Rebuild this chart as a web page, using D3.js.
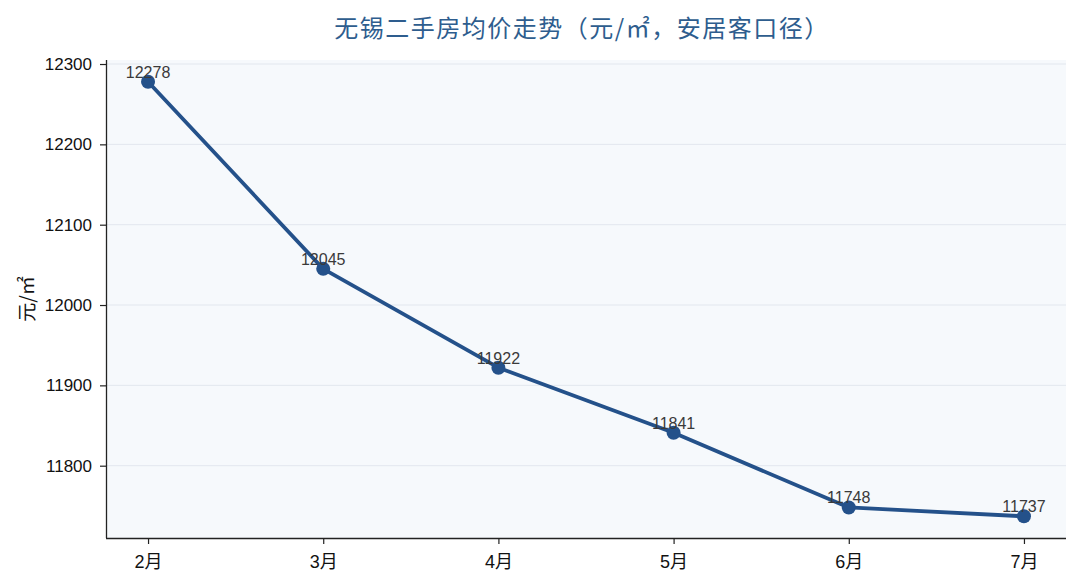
<!DOCTYPE html>
<html>
<head>
<meta charset="utf-8">
<script src="https://cdn.jsdelivr.net/npm/d3@7"></script>
<style>
  body { margin: 0; background: #fff; }
  svg { display: block; font-family: "Liberation Sans", "Noto Sans CJK SC", sans-serif; }
</style>
</head>
<body>
<script>
// data
var months = ['2月', '3月', '4月', '5月', '6月', '7月'];
var prices = [12278, 12045, 11922, 11841, 11748, 11737];
var yTicks = [11800, 11900, 12000, 12100, 12200, 12300];

var W = 1080, H = 588,
    m = {top: 60, right: 14, bottom: 50, left: 106},
    iw = W - m.left - m.right,
    ih = H - m.top - m.bottom;

var svg = d3.select('body').append('svg')
    .attr('width', W)
    .attr('height', H);

var x = d3.scalePoint().domain(months).range([0, iw]).padding(0.24);
var y = d3.scaleLinear().domain([11710, 12305]).range([ih, 0]);

var g = svg.append('g').attr('transform', 'translate(' + m.left + ',' + m.top + ')');

// plot background
g.append('rect')
    .attr('width', iw)
    .attr('height', ih)
    .attr('fill', '#f6f9fc');

// grid
g.selectAll('.grid')
    .data(yTicks)
    .enter()
    .append('line')
    .attr('x1', 0)
    .attr('x2', iw)
    .attr('y1', function(d){ return y(d); })
    .attr('y2', function(d){ return y(d); })
    .attr('stroke', '#e2e7ee')
    .attr('stroke-width', 1);

// axes
var yAxis = g.append('g')
    .call(d3.axisLeft(y).tickValues(yTicks).tickSize(6).tickPadding(8).tickFormat(d3.format('d')));
var xAxis = g.append('g')
    .attr('transform', 'translate(0,' + ih + ')')
    .call(d3.axisBottom(x).tickSize(6).tickPadding(11));

[yAxis, xAxis].forEach(function(a){
  a.select('.domain').attr('stroke', '#222').attr('stroke-width', 1.3);
  a.selectAll('.tick line').attr('stroke', '#222').attr('stroke-width', 1.2);
  a.selectAll('.tick text').attr('fill', '#111').attr('font-size', '17px')
    .attr('font-family', '"Liberation Sans", "Noto Sans CJK SC", sans-serif');
});
xAxis.selectAll('.tick text').attr('font-size', '18px');
// no top/right spine, so redraw the left one over the full height
yAxis.select('.domain').attr('d', 'M0.5,0V' + ih);
xAxis.select('.domain').attr('d', 'M0,0.5H' + iw);

// line
var line = d3.line()
    .x(function(d, i){ return x(months[i]); })
    .y(function(d){ return y(d); });

g.append('path')
    .datum(prices)
    .attr('d', line)
    .attr('fill', 'none')
    .attr('stroke', '#24518a')
    .attr('stroke-width', 3.8)
    .attr('stroke-linejoin', 'round');

g.selectAll('circle')
    .data(prices)
    .enter()
    .append('circle')
    .attr('cx', function(d, i){ return x(months[i]); })
    .attr('cy', function(d){ return y(d); })
    .attr('r', 7)
    .attr('fill', '#24518a');

// value labels
g.selectAll('.val')
    .data(prices)
    .enter()
    .append('text')
    .text(function(d){ return d; })
    .attr('x', function(d, i){ return x(months[i]); })
    .attr('y', function(d){ return y(d) - 4; })
    .attr('text-anchor', 'middle')
    .attr('font-size', '16px')
    .attr('fill', '#3a3a3a');

// title
svg.append('text')
    .text('无锡二手房均价走势（元/㎡，安居客口径）')
    .attr('x', 582)
    .attr('y', 37)
    .attr('text-anchor', 'middle')
    .attr('font-family', '"Noto Sans CJK SC", sans-serif')
    .attr('font-size', '24px')
    .attr('letter-spacing', '1.5px')
    .attr('fill', '#2e5d8e');

// y label
svg.append('text')
    .text('元/㎡')
    .attr('transform', 'translate(34,' + (m.top + ih / 2) + ') rotate(-90)')
    .attr('text-anchor', 'middle')
    .attr('font-family', '"Noto Sans CJK SC", sans-serif')
    .attr('font-size', '19px')
    .attr('fill', '#111');
</script>
</body>
</html>
